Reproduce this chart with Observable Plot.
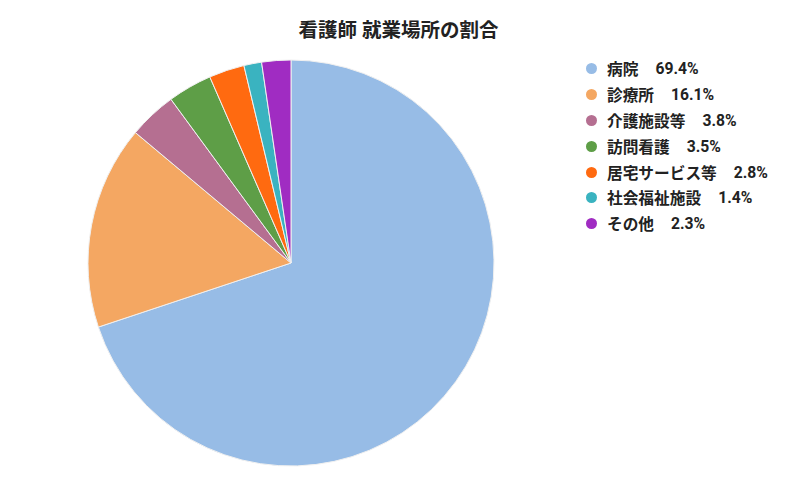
<!DOCTYPE html>
<html><head><meta charset="utf-8">
<script src="https://cdn.jsdelivr.net/npm/d3@7"></script>
<script src="https://cdn.jsdelivr.net/npm/@observablehq/plot@0.6"></script>
<style>
body{margin:0;background:#fff;font-family:Roboto,"Noto Sans CJK JP","Noto Sans",sans-serif;}
#wrap{position:relative;width:792px;height:490px;}
#title{position:absolute;left:0;top:17px;width:797px;text-align:center;font-size:19.5px;font-weight:bold;color:#222;line-height:28px;}
#chart{position:absolute;left:0;top:50px;}
#legend{position:absolute;left:586px;top:56px;}
.row{height:25.8px;display:flex;align-items:center;font-size:15.7px;font-weight:bold;color:#222;white-space:nowrap;}
.sw{width:11px;height:11px;border-radius:50%;margin-right:10px;}
.val{margin-left:17px;}
</style></head>
<body><div id="wrap"><div id="title">看護師 就業場所の割合</div><div id="chart"></div><div id="legend"></div></div>
<script>
const categories = ["病院","診療所","介護施設等","訪問看護","居宅サービス等","社会福祉施設","その他"];
const values = [69.4, 16.1, 3.8, 3.5, 2.8, 1.4, 2.3];
const colors = ["#97bce6","#f4a762","#b56f91","#5e9e47","#ff6a10","#3ab3c0","#a02cc2"];

const data = categories.map((c,i)=>({category:c, value:values[i]}));
const arcs = d3.pie().sort(null).value(d=>d.value)(data).map(a=>({...a, category:a.data.category}));

const pieMark = (index, scales, vals, dims) => {
  const cx = scales.x(0), cy = scales.y(0), r = scales.x(1) - scales.x(0);
  const g = d3.create("svg:g").attr("transform", `translate(${cx},${cy})`);
  const arc = d3.arc().innerRadius(0).outerRadius(r);
  g.selectAll("path").data(arcs).join("path")
    .attr("d", arc)
    .attr("fill", d => scales.color(d.category))
    .attr("stroke", "#f0f0f0")
    .attr("stroke-width", 1);
  return g.node();
};

const plot = Plot.plot({
  width: 792, height: 440,
  margin: 0,
  x: {domain: [-1, 1], range: [88, 494], axis: null},
  y: {domain: [-1, 1], range: [416, 10], axis: null},
  color: {domain: categories, range: colors},
  marks: [
    Plot.dot(arcs, {x: d => Math.sin((d.startAngle+d.endAngle)/2), y: d => Math.cos((d.startAngle+d.endAngle)/2), fill: "category", r: 0.001, fillOpacity: 0}),
    pieMark
  ]
});
document.getElementById("chart").appendChild(plot);

const leg = d3.select("#legend");
categories.forEach((c,i)=>{
  const row = leg.append("div").attr("class","row");
  row.append("div").attr("class","sw").style("background", colors[i]);
  row.append("span").text(c);
  row.append("span").attr("class","val").text(values[i].toFixed(1) + "%");
});
</script></body></html>
